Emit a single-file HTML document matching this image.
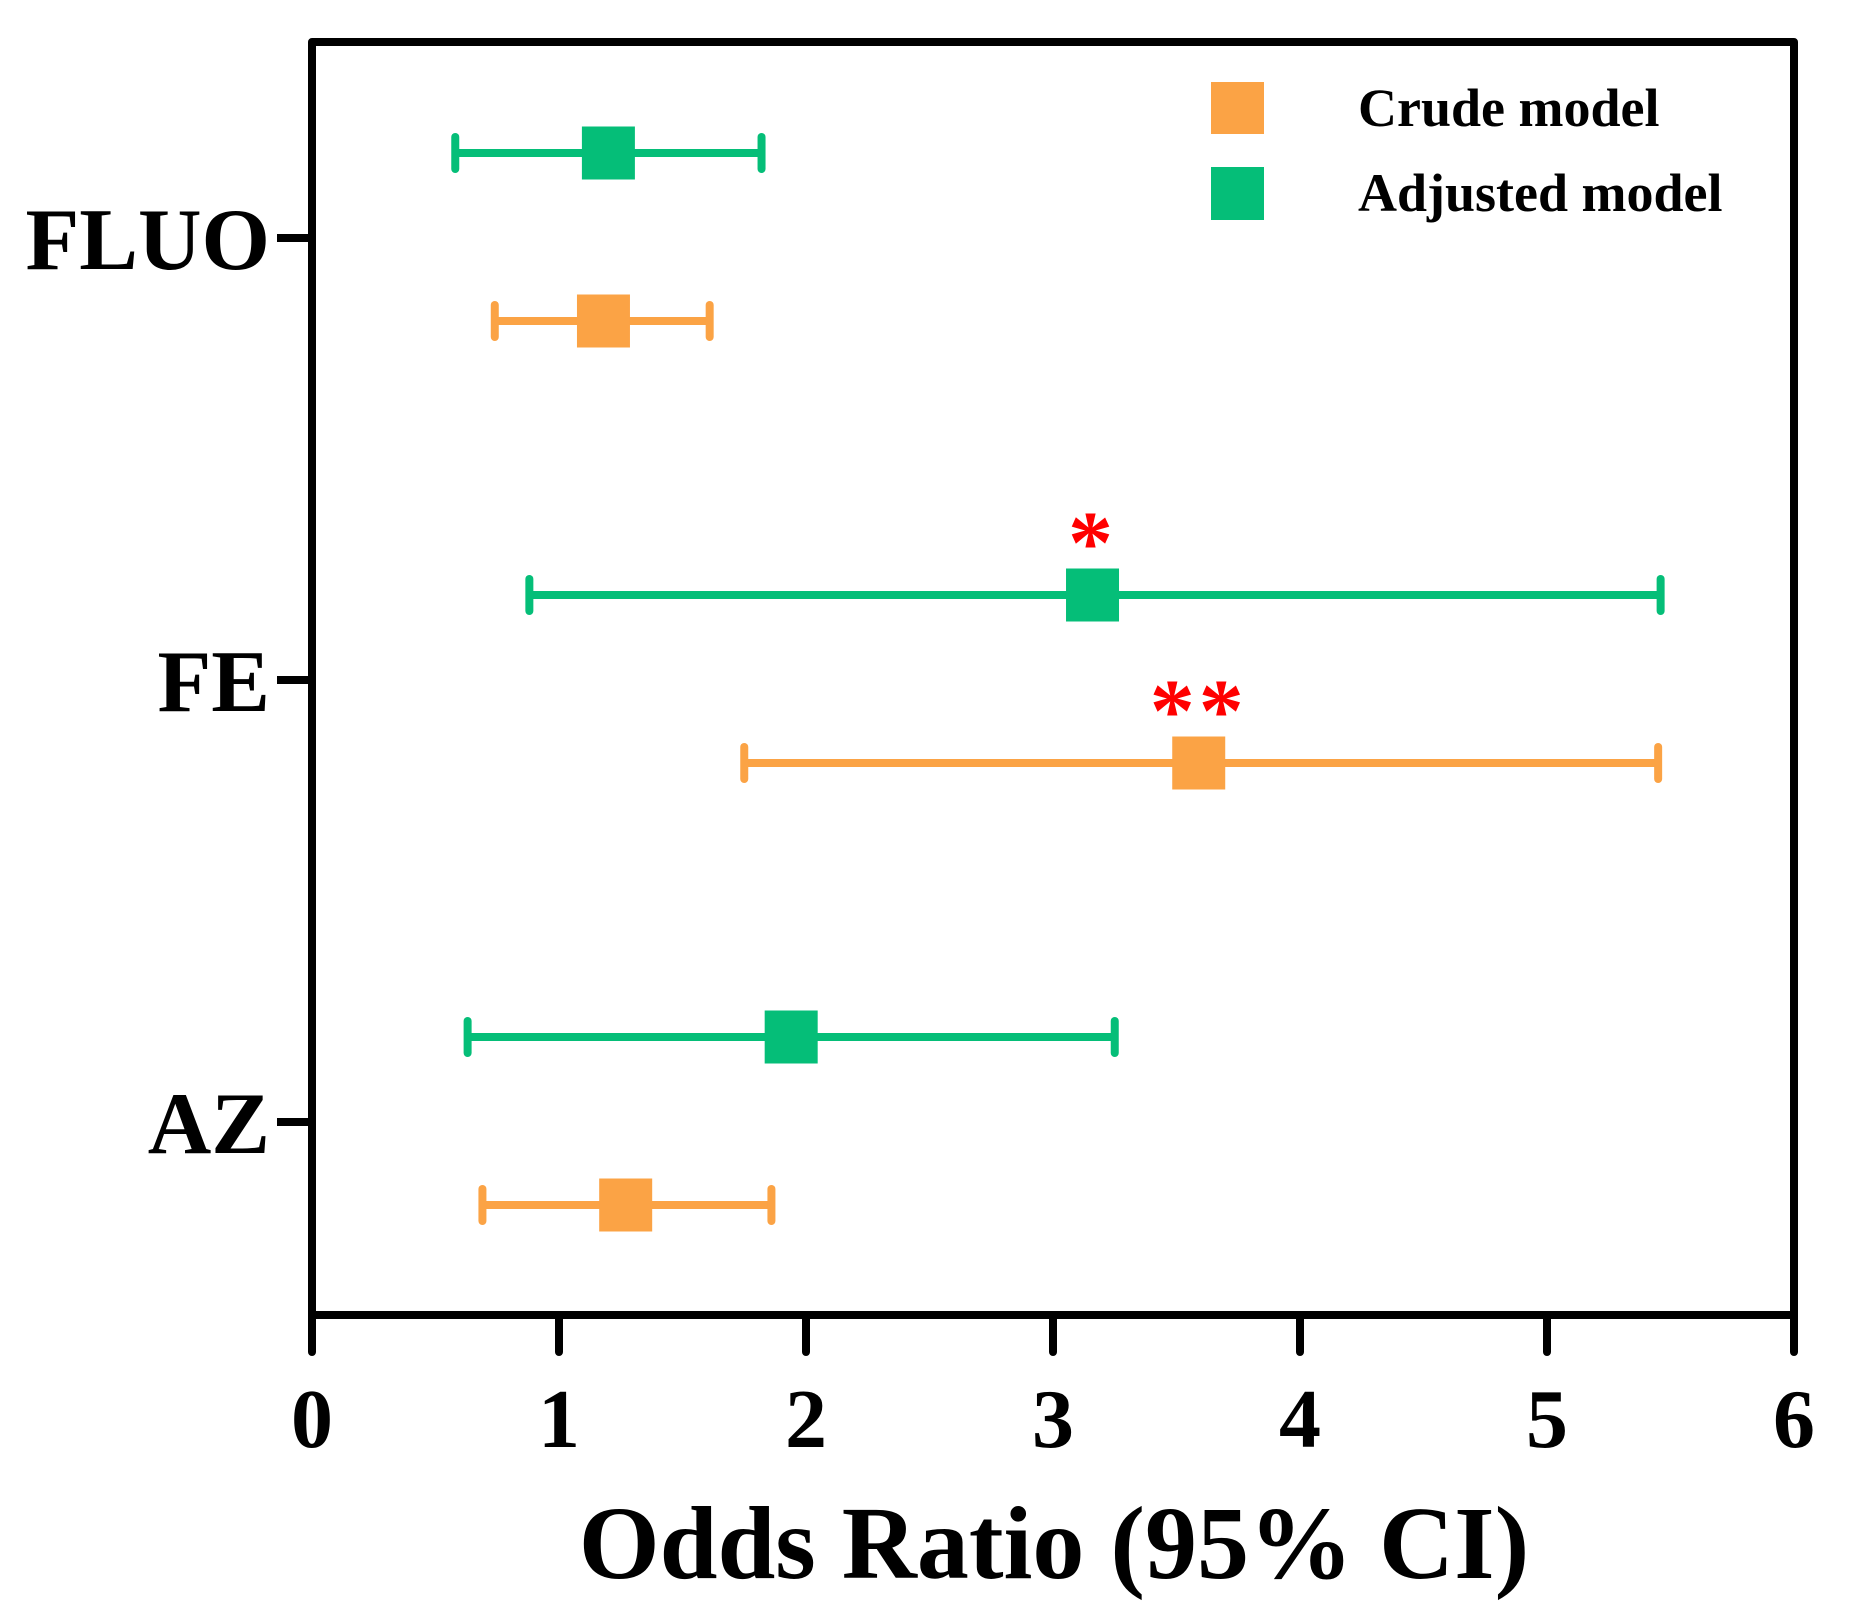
<!DOCTYPE html>
<html><head><meta charset="utf-8"><style>
html,body{margin:0;padding:0;background:#fff;}
svg{display:block;font-family:"Liberation Serif",serif;font-weight:bold;}
</style></head><body>
<svg id="chart" width="1866" height="1617" viewBox="0 0 1866 1617">
<g id="marks"></g>
<rect x="312" y="42" width="1482" height="1273" fill="none" stroke="#000" stroke-width="8" stroke-linejoin="round"/>
<g id="axes"></g>
<text x="1054" y="1578" font-size="104" text-anchor="middle">Odds Ratio (95% CI)</text>
<g>
<rect x="1211" y="82" width="53" height="52" fill="#FBA345"/>
<text x="1358" y="126" font-size="54">Crude model</text>
<rect x="1211" y="167" width="53" height="53" fill="#05BE78"/>
<text x="1358" y="211" font-size="54">Adjusted model</text>
</g>
</svg>
<script>
const categories = ["FLUO", "FE", "AZ"];
const crudeOR = [1.18, 3.59, 1.27];
const crudeLo = [0.74, 1.75, 0.69];
const crudeHi = [1.61, 5.45, 1.86];
const adjOR = [1.20, 3.16, 1.94];
const adjLo = [0.58, 0.88, 0.63];
const adjHi = [1.82, 5.46, 3.25];
const crudeSig = ["", "**", ""];
const adjSig = ["", "*", ""];
const xTicks = [0, 1, 2, 3, 4, 5, 6];

const NS = "http://www.w3.org/2000/svg";
const X0 = 312, X1 = 1794;
const xScale = v => X0 + (v - 0) / 6 * (X1 - X0);
const catY = i => 238 + i * 442;
function mk(tag, attrs, parent) {
  const e = document.createElementNS(NS, tag);
  for (const k in attrs) e.setAttribute(k, attrs[k]);
  parent.appendChild(e);
  return e;
}
const marks = document.getElementById("marks");
const axes = document.getElementById("axes");

xTicks.forEach(t => {
  const x = xScale(t);
  const l = mk("line", {x1: x, x2: x, y1: 1315, y2: 1352, stroke: "#000", "stroke-width": 8, "stroke-linecap": "round"}, axes);
  
  
  const tx = mk("text", {x: x, y: 1447, "font-size": 84, "text-anchor": "middle"}, axes);
  tx.textContent = t;
  
  
});
categories.forEach((c, i) => {
  const y = catY(i);
  const l = mk("line", {x1: 277, x2: 312, y1: y, y2: y, stroke: "#000", "stroke-width": 8}, axes);
  
  
  const tx = mk("text", {x: 270, y: y + 31, "font-size": 88, "text-anchor": "end"}, axes);
  tx.textContent = c;
  
  
});

function series(or, lo, hi, sig, color, dy, name) {
  categories.forEach((c, i) => {
    const y = catY(i) + dy;
    const a = xScale(lo[i]), b = xScale(hi[i]), m = xScale(or[i]);
    const g = mk("g", {}, marks);
    
    
    mk("line", {x1: a, x2: b, y1: y, y2: y, stroke: color, "stroke-width": 8}, g);
    mk("line", {x1: a, x2: a, y1: y - 16, y2: y + 16, stroke: color, "stroke-width": 8, "stroke-linecap": "round"}, g);
    mk("line", {x1: b, x2: b, y1: y - 16, y2: y + 16, stroke: color, "stroke-width": 8, "stroke-linecap": "round"}, g);
    mk("rect", {x: m - 26.5, y: y - 26.5, width: 53, height: 53, fill: color}, g);
    if (sig[i]) {
      const s = mk("text", {x: m, y: y - 22, "font-size": 90, fill: "#ff0000", "text-anchor": "middle", "letter-spacing": "4"}, g);
      s.textContent = sig[i];
      
      
    }
  });
}
series(adjOR, adjLo, adjHi, adjSig, "#05BE78", -85, "adjusted");
series(crudeOR, crudeLo, crudeHi, crudeSig, "#FBA345", 83, "crude");
</script>
</body></html>
